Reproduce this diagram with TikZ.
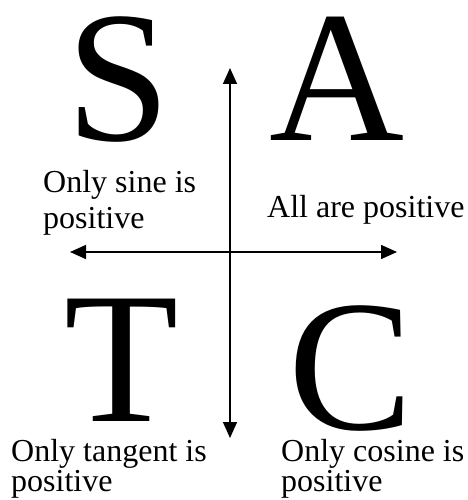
\documentclass[tikz,border=0pt]{standalone}
\usepackage{fontspec}
\setmainfont{Liberation Serif}
\usetikzlibrary{arrows.meta}
\tikzset{
  big/.style={anchor=base, inner sep=0pt, text depth=0pt, font=\fontsize{187}{187}\selectfont},
  lbl/.style={anchor=base west, inner sep=0pt, align=left},
  axis/.style={line width=1.5pt, {Triangle[length=16pt,width=14pt]}-{Triangle[length=16pt,width=14pt]}}
}
\begin{document}
\begin{tikzpicture}[x=1pt,y=-1pt]
\useasboundingbox (0,0) rectangle (467,500);
% big letters
\node[big] (S) at (118,140) {S};
\node[big] (A) at (337.5,140) {A};
\node[big] (T) at (121.5,421) {T};
\node[big] (C) at (351,429) {C};
% labels (base anchor = baseline of last line)
\node[lbl, font=\fontsize{32}{35.5}\selectfont] (ls) at (43,228) {Only sine is\\positive};
\node[lbl, font=\fontsize{32}{35.5}\selectfont] (la) at (267,217) {All are positive};
\node[lbl, font=\fontsize{32}{30}\selectfont] (lt) at (11,491) {Only tangent is\\positive};
\node[lbl, font=\fontsize{32}{30}\selectfont] (lc) at (281,491) {Only cosine is\\positive};
% axes
\coordinate (top) at (230,68);
\coordinate (bot) at (230,438);
\coordinate (lft) at (70,252);
\coordinate (rgt) at (397,252);
\draw[axis] (top) -- (bot);
\draw[axis] (lft) -- (rgt);
\end{tikzpicture}
\end{document}
